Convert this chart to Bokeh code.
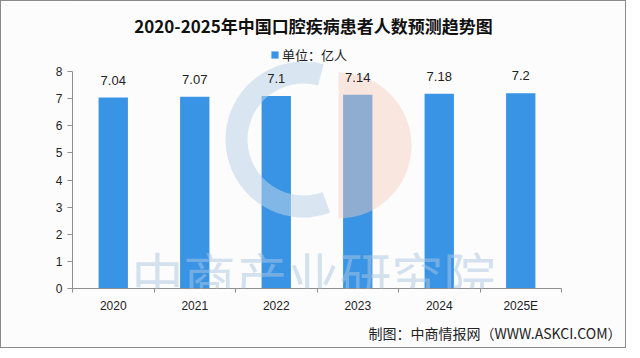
from bokeh.plotting import figure
from bokeh.models import (ColumnDataSource, LabelSet, Label, Legend, LegendItem,
                          FixedTicker, Range1d, Title)
from bokeh.core.properties import value
from bokeh.embed import file_html
from bokeh.resources import INLINE

# ---- data ----
years = ["2020", "2021", "2022", "2023", "2024", "2025E"]
patients = [7.04, 7.07, 7.1, 7.14, 7.18, 7.2]
value_labels = ["7.04", "7.07", "7.1", "7.14", "7.18", "7.2"]
y_ticks = [0, 1, 2, 3, 4, 5, 6, 7, 8]

title_text = "2020-2025年中国口腔疾病患者人数预测趋势图"
legend_text = "单位：亿人"
source_text = "制图：中商情报网（WWW.ASKCI.COM）"
watermark_text = "中商产业研究院"

BAR = "#3a94e6"
AXIS = "#8f8f8f"
TXT = "#222222"

n = len(years)
xs = [i + 0.5 for i in range(n)]
src = ColumnDataSource(dict(x=xs, y=patients, lab=value_labels))

# frame spans from the canvas top down to the x axis; 8 units = 217 px
FRAME_H = 287
y_top = 8 * FRAME_H / 217.0

p = figure(width=624, height=342, output_backend="svg", toolbar_location=None,
           x_range=Range1d(0, n), y_range=Range1d(0, y_top),
           frame_height=FRAME_H, frame_width=489,
           min_border_left=71, min_border_right=64, min_border_top=0,
           min_border_bottom=55, title=None,
           background_fill_color="#fcfcfd", border_fill_color="#fcfcfd",
           styles={"border": "1px solid #8a8a8a"})
p.outline_line_color = None
p.grid.visible = False

bars = p.vbar(x="x", top="y", width=0.36, source=src, fill_color=BAR,
              line_color=None)

# watermark logo
p.annular_wedge(x=[(310 - 79) / 81.5], y=[(295 - 146) / 27.125],
                inner_radius=56, outer_radius=78,
                inner_radius_units="screen", outer_radius_units="screen",
                start_angle=75, end_angle=290, start_angle_units="deg",
                end_angle_units="deg", fill_color="#bcd3e8", fill_alpha=0.55,
                line_color=None)
p.wedge(x=[(345 - 79) / 81.5], y=[(295 - 152) / 27.125], radius=73,
        radius_units="screen", start_angle=-90, end_angle=90,
        start_angle_units="deg", end_angle_units="deg",
        fill_color="#f6cdb8", fill_alpha=0.45, line_color=None)

# value labels
p.add_layout(LabelSet(x="x", y="y", text="lab", source=src, y_offset=13,
                      text_align="center", text_baseline="bottom",
                      text_font=value("Liberation Sans"),
                      text_font_size="13px", text_color=TXT))

# axes
p.xaxis.ticker = FixedTicker(ticks=xs, minor_ticks=list(range(n + 1)))
p.xaxis.major_label_overrides = {x: y for x, y in zip(xs, years)}
p.xaxis.major_tick_out = 0
p.xaxis.major_tick_in = 0
p.xaxis.minor_tick_out = 4
p.xaxis.minor_tick_in = 0
p.xaxis.minor_tick_line_color = AXIS
p.xaxis.axis_line_color = AXIS
p.xaxis.major_label_standoff = 6
p.xaxis.major_label_text_font = "Liberation Sans"
p.xaxis.major_label_text_font_size = "12px"
p.xaxis.major_label_text_color = TXT

p.yaxis.ticker = FixedTicker(ticks=y_ticks, minor_ticks=[])
p.yaxis.bounds = (0, 8)
p.yaxis.major_tick_out = 5
p.yaxis.major_tick_in = 0
p.yaxis.major_tick_line_color = AXIS
p.yaxis.axis_line_color = AXIS
p.yaxis.major_label_standoff = 5
p.yaxis.major_label_text_font = "Liberation Sans"
p.yaxis.major_label_text_font_size = "12px"
p.yaxis.major_label_text_color = TXT

# title (frame-relative screen coords)
p.add_layout(Label(x=241, y=263, x_units="screen", y_units="screen",
                   text=title_text, text_align="center", text_baseline="middle",
                   text_font="Noto Sans CJK SC", text_font_style="bold",
                   text_font_size="17px", text_color="#111111"))

# legend
legend = Legend(items=[LegendItem(label=legend_text, renderers=[bars])],
                location=(198, 224), orientation="horizontal",
                glyph_width=9, glyph_height=9, label_text_font_size="13px",
                label_text_font="Noto Sans CJK SC", label_text_color=TXT,
                label_standoff=3, padding=0, margin=0,
                border_line_color=None, background_fill_alpha=0)
p.add_layout(legend, "center")

# watermark text
p.add_layout(Label(x=241, y=14, x_units="screen", y_units="screen",
                   text=watermark_text, text_align="center", text_baseline="middle",
                   text_font="Noto Sans CJK SC", text_font_size="52px",
                   text_color="#a9c6df", text_alpha=0.5))

# source note
p.add_layout(Title(text=source_text, align="right", offset=-60, standoff=10,
                   text_font="Noto Sans CJK SC", text_font_size="14px",
                   text_font_style="normal", text_color=TXT), "below")

open("out.html", "w").write(file_html(p, INLINE))
